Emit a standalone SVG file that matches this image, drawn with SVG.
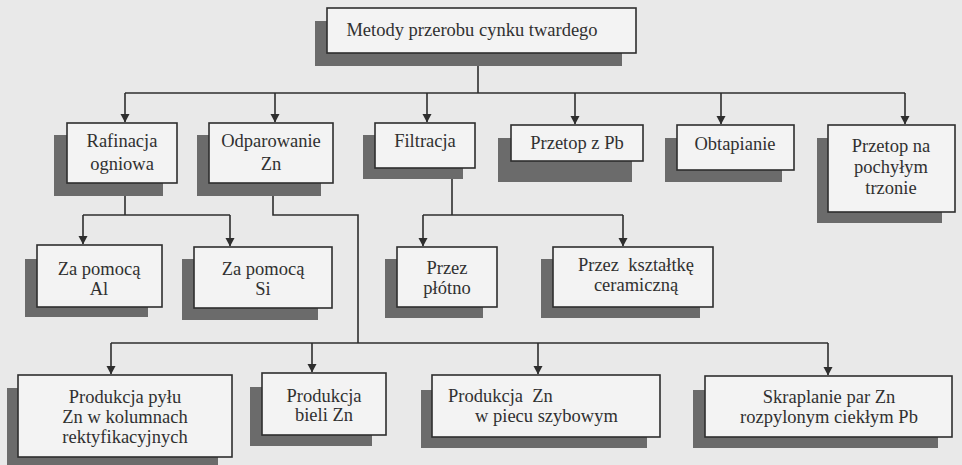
<svg xmlns="http://www.w3.org/2000/svg" width="962" height="465" viewBox="0 0 962 465">
<style>
.bg{fill:#e9e9e9}
.sh{fill:#6b6b6b}
.bx{fill:#f3f3f3;stroke:#2e2e2e;stroke-width:1.6}
.t{text-anchor:middle}
.c{fill:none;stroke:#2e2e2e;stroke-width:1.6}
</style>
<defs>
<marker id="ah" markerUnits="userSpaceOnUse" markerWidth="10" markerHeight="10" refX="9" refY="5" orient="auto" viewBox="0 0 10 10">
<path d="M1,0.5 L9.5,5 L1,9.5 Z" fill="#2e2e2e"/>
</marker>
</defs>
<rect class="bg" x="0" y="0" width="962" height="465"/>

<g id="connectors">
<path class="c" d="M478,53 V93"/>
<path class="c" d="M125,93 H905"/>
<path class="c" d="M125,93 V122" marker-end="url(#ah)"/>
<path class="c" d="M275,93 V122" marker-end="url(#ah)"/>
<path class="c" d="M427,93 V122" marker-end="url(#ah)"/>
<path class="c" d="M575,93 V124" marker-end="url(#ah)"/>
<path class="c" d="M721,93 V124" marker-end="url(#ah)"/>
<path class="c" d="M905,93 V124" marker-end="url(#ah)"/>
<path class="c" d="M125,183 V215"/>
<path class="c" d="M83,215 H230"/>
<path class="c" d="M83,215 V244" marker-end="url(#ah)"/>
<path class="c" d="M230,215 V246" marker-end="url(#ah)"/>
<path class="c" d="M273,183 V215 H358 V343"/>
<path class="c" d="M452,168 V215"/>
<path class="c" d="M423,215 H623"/>
<path class="c" d="M423,215 V246" marker-end="url(#ah)"/>
<path class="c" d="M623,215 V246" marker-end="url(#ah)"/>
<path class="c" d="M111,343 H828"/>
<path class="c" d="M111,343 V374" marker-end="url(#ah)"/>
<path class="c" d="M312,343 V372" marker-end="url(#ah)"/>
<path class="c" d="M538,343 V374" marker-end="url(#ah)"/>
<path class="c" d="M828,343 V375" marker-end="url(#ah)"/>
</g>

<g font-family="Liberation Serif, Times New Roman, DejaVu Serif, serif" font-size="18.5" fill="#303030">
<g id="n0">
<rect class="sh" x="315" y="21" width="307" height="45"/>
<rect class="bx" x="327" y="8" width="309" height="45"/>
<text class="t" x="472" y="36">Metody przerobu cynku twardego</text>
</g>

<g id="n1">
<rect class="sh" x="54" y="135" width="109" height="61"/>
<rect class="bx" x="67" y="123" width="110" height="60"/>
<text class="t" x="122" y="147">Rafinacja</text>
<text class="t" x="122" y="170">ogniowa</text>
</g>

<g id="n2">
<rect class="sh" x="197" y="135" width="124" height="61"/>
<rect class="bx" x="209" y="123" width="124" height="60"/>
<text class="t" x="271" y="147">Odparowanie</text>
<text class="t" x="271" y="170">Zn</text>
</g>

<g id="n3">
<rect class="sh" x="363" y="135" width="100" height="44"/>
<rect class="bx" x="375" y="123" width="100" height="45"/>
<text class="t" x="425" y="147">Filtracja</text>
</g>

<g id="n4">
<rect class="sh" x="498" y="138" width="134" height="44"/>
<rect class="bx" x="511" y="125" width="132" height="36"/>
<text class="t" x="577" y="149">Przetop z Pb</text>
</g>

<g id="n5">
<rect class="sh" x="665" y="138" width="117" height="44"/>
<rect class="bx" x="677" y="125" width="117" height="45"/>
<text class="t" x="735" y="150">Obtapianie</text>
</g>

<g id="n6">
<rect class="sh" x="817" y="138" width="125" height="85"/>
<rect class="bx" x="828" y="125" width="127" height="87"/>
<text class="t" x="891" y="152">Przetop na</text>
<text class="t" x="891" y="173">pochyłym</text>
<text class="t" x="891" y="194">trzonie</text>
</g>

<g id="n7">
<rect class="sh" x="25" y="259" width="123" height="58"/>
<rect class="bx" x="37" y="245" width="125" height="62"/>
<text class="t" x="99" y="275">Za pomocą</text>
<text class="t" x="99" y="295">Al</text>
</g>

<g id="n8">
<rect class="sh" x="182" y="259" width="136" height="61"/>
<rect class="bx" x="194" y="247" width="138" height="61"/>
<text class="t" x="263" y="275">Za pomocą</text>
<text class="t" x="263" y="295">Si</text>
</g>

<g id="n9">
<rect class="sh" x="385" y="259" width="98" height="59"/>
<rect class="bx" x="397" y="247" width="100" height="60"/>
<text class="t" x="447" y="274">Przez</text>
<text class="t" x="447" y="294">płótno</text>
</g>

<g id="n10">
<rect class="sh" x="541" y="259" width="159" height="59"/>
<rect class="bx" x="553" y="247" width="160" height="60"/>
<text class="t" x="636" y="271" xml:space="preserve">Przez  kształtkę</text>
<text class="t" x="636" y="291">ceramiczną</text>
</g>

<g id="n11">
<rect class="sh" x="7" y="388" width="211" height="80"/>
<rect class="bx" x="18" y="375" width="214" height="82"/>
<text class="t" x="125" y="403">Produkcja pyłu</text>
<text class="t" x="125" y="423">Zn w kolumnach</text>
<text class="t" x="125" y="443">rektyfikacyjnych</text>
</g>

<g id="n12">
<rect class="sh" x="250" y="387" width="122" height="59"/>
<rect class="bx" x="262" y="373" width="124" height="62"/>
<text class="t" x="324" y="402">Produkcja</text>
<text class="t" x="324" y="421">bieli Zn</text>
</g>

<g id="n13">
<rect class="sh" x="421" y="390" width="226" height="58"/>
<rect class="bx" x="432" y="375" width="228" height="62"/>
<text x="448" y="402" xml:space="preserve">Produkcja  Zn</text>
<text x="475" y="422">w piecu szybowym</text>
</g>

<g id="n14">
<rect class="sh" x="693" y="390" width="245" height="58"/>
<rect class="bx" x="705" y="376" width="247" height="61"/>
<text class="t" x="829" y="403">Skraplanie par Zn</text>
<text class="t" x="829" y="423">rozpylonym ciekłym Pb</text>
</g>
</g>
</svg>
